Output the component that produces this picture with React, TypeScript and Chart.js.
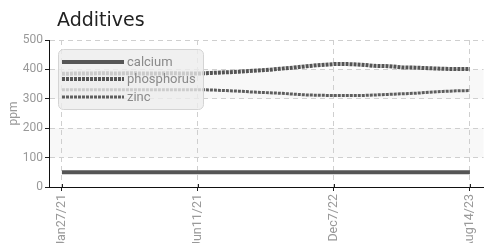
import React, { useEffect, useRef } from "react";
import { Chart, registerables } from "chart.js";

Chart.register(...registerables);

const TITLE = "Additives";
const Y_TITLE = "ppm";
const X_TICK_INDEX = [0, 10, 20, 30];
const X_TICK_LABELS = ["Jan27/21", "Jun11/21", "Dec7/22", "Aug14/23"];
const Y_BANDS: [number, number][] = [[100, 200], [300, 400]];

const CALCIUM = [50, 50, 50, 50, 50, 50, 50, 50, 50, 50, 50, 50, 50, 50, 50, 50, 50, 50, 50, 50, 50, 50, 50, 50, 50, 50, 50, 50, 50, 50, 50];
const PHOSPHORUS = [385, 386, 386, 387, 386, 387, 386, 386, 387, 386, 386, 388, 390, 392, 395, 398, 402, 406, 411, 415, 418, 418, 416, 412, 411, 407, 406, 404, 402, 401, 401];
const ZINC = [331, 331, 331, 331, 331, 331, 331, 331, 331, 331, 331, 330, 328, 326, 323, 321, 319, 316, 313, 312, 311, 311, 311, 313, 315, 317, 319, 322, 325, 327, 328];

const SERIES = [
  { label: "calcium", data: CALCIUM, color: "#555555", width: 4, dash: [] as number[] },
  { label: "phosphorus", data: PHOSPHORUS, color: "#555555", width: 4, dash: [3, 1] },
  { label: "zinc", data: ZINC, color: "#5e5e5e", width: 3, dash: [3, 1] },
];

const FONT = "Roboto, 'Liberation Sans', sans-serif";

export default function App() {
  const ref = useRef<HTMLCanvasElement>(null);

  useEffect(() => {
    if (!ref.current) return;

    const bandsPlugin = {
      id: "bands",
      beforeDraw(chart: any) {
        const { ctx, chartArea } = chart;
        const y = chart.scales.y;
        ctx.save();
        ctx.fillStyle = "#f8f8f8";
        for (const [a, b] of Y_BANDS) {
          const y1 = y.getPixelForValue(b);
          const y2 = y.getPixelForValue(a);
          ctx.fillRect(chartArea.left, y1, chartArea.right - chartArea.left, y2 - y1);
        }
        ctx.restore();
      },
    };

    const overlayPlugin = {
      id: "overlay",
      afterDraw(chart: any) {
        const { ctx, chartArea } = chart;
        const xs = chart.scales.x;
        ctx.save();
        ctx.strokeStyle = "#222222";
        ctx.lineWidth = 1;
        for (const v of X_TICK_INDEX) {
          const px = Math.round(xs.getPixelForValue(v)) + 0.5;
          ctx.beginPath();
          ctx.moveTo(px, chartArea.bottom - 3);
          ctx.lineTo(px, chartArea.bottom);
          ctx.stroke();
        }

        ctx.fillStyle = "#222222";
        ctx.font = "19px 'DejaVu Sans', sans-serif";
        ctx.textAlign = "left";
        ctx.textBaseline = "alphabetic";
        ctx.fillText(TITLE, 57, 26);

        const bx = chartArea.left + 9.5;
        const by = chartArea.top + 9.5;
        const bw = 145;
        const bh = 60;
        ctx.beginPath();
        ctx.roundRect(bx, by, bw, bh, 5);
        ctx.fillStyle = "rgba(236,236,236,0.78)";
        ctx.fill();
        ctx.strokeStyle = "#d4d4d4";
        ctx.lineWidth = 1;
        ctx.stroke();

        const rowY = [by + 12.5, by + 29.5, by + 47.5];
        SERIES.forEach((s, i) => {
          ctx.beginPath();
          ctx.setLineDash(s.dash);
          ctx.lineWidth = s.width;
          ctx.strokeStyle = s.color;
          ctx.moveTo(bx + 3.5, rowY[i]);
          ctx.lineTo(bx + 65.5, rowY[i]);
          ctx.stroke();
          ctx.setLineDash([]);
          ctx.fillStyle = "#8a8a8a";
          ctx.font = `13px ${FONT}`;
          ctx.textBaseline = "middle";
          ctx.fillText(s.label, bx + 68.5, rowY[i] + 0.5);
        });
        ctx.restore();
      },
    };

    const chart = new Chart(ref.current, {
      type: "line",
      data: {
        datasets: SERIES.map((s) => ({
          label: s.label,
          data: s.data.map((v, i) => ({ x: i, y: v })),
          borderColor: s.color,
          borderWidth: s.width,
          borderDash: s.dash,
          borderCapStyle: "butt",
          pointRadius: 0,
          tension: 0,
          fill: false,
        })),
      },
      options: {
        animation: false,
        responsive: false,
        devicePixelRatio: 1,
        layout: { padding: { top: 40, left: 0, right: 2, bottom: 0 } },
        plugins: {
          legend: { display: false },
          title: { display: false },
          tooltip: { enabled: false },
        },
        scales: {
          x: {
            type: "linear",
            min: -0.95,
            max: 31,
            afterBuildTicks(scale: any) {
              scale.ticks = X_TICK_INDEX.map((v) => ({ value: v }));
            },
            afterFit(scale: any) {
              scale.height = 250 - 187;
            },
            ticks: {
              autoSkip: false,
              minRotation: 90,
              maxRotation: 90,
              padding: 3,
              color: "#999999",
              font: { family: FONT, size: 12.5 },
              callback: (v: any) => {
                const k = X_TICK_INDEX.indexOf(Number(v));
                return k >= 0 ? X_TICK_LABELS[k] : "";
              },
            },
            grid: {
              color: "#cfcfcf",
              tickColor: "#222222",
              tickLength: 4,
              lineWidth: 1,
            },
            border: { display: true, color: "#111111", width: 1, dash: [5, 4] },
          },
          y: {
            min: 0,
            max: 500,
            afterFit(scale: any) {
              scale.width = 49;
            },
            ticks: {
              stepSize: 100,
              padding: 2,
              color: "#999999",
              font: { family: FONT, size: 12 },
            },
            grid: {
              color: (c: any) => (c.tick && c.tick.value === 0 ? "rgba(0,0,0,0)" : "#cfcfcf"),
              tickColor: "#222222",
              tickLength: 4,
              lineWidth: 1,
            },
            border: { display: true, color: "#111111", width: 1, dash: [5, 4] },
            title: {
              display: true,
              text: Y_TITLE,
              color: "#999999",
              font: { family: FONT, size: 12 },
              padding: { top: 7, bottom: 0 },
            },
          },
        },
      } as any,
      plugins: [bandsPlugin, overlayPlugin],
    });

    return () => chart.destroy();
  }, []);

  return (
    <div style={{ position: "absolute", left: 0, top: 0, width: 488, height: 250 }}>
      <canvas ref={ref} width={488} height={250} style={{ display: "block" }} />
    </div>
  );
}
